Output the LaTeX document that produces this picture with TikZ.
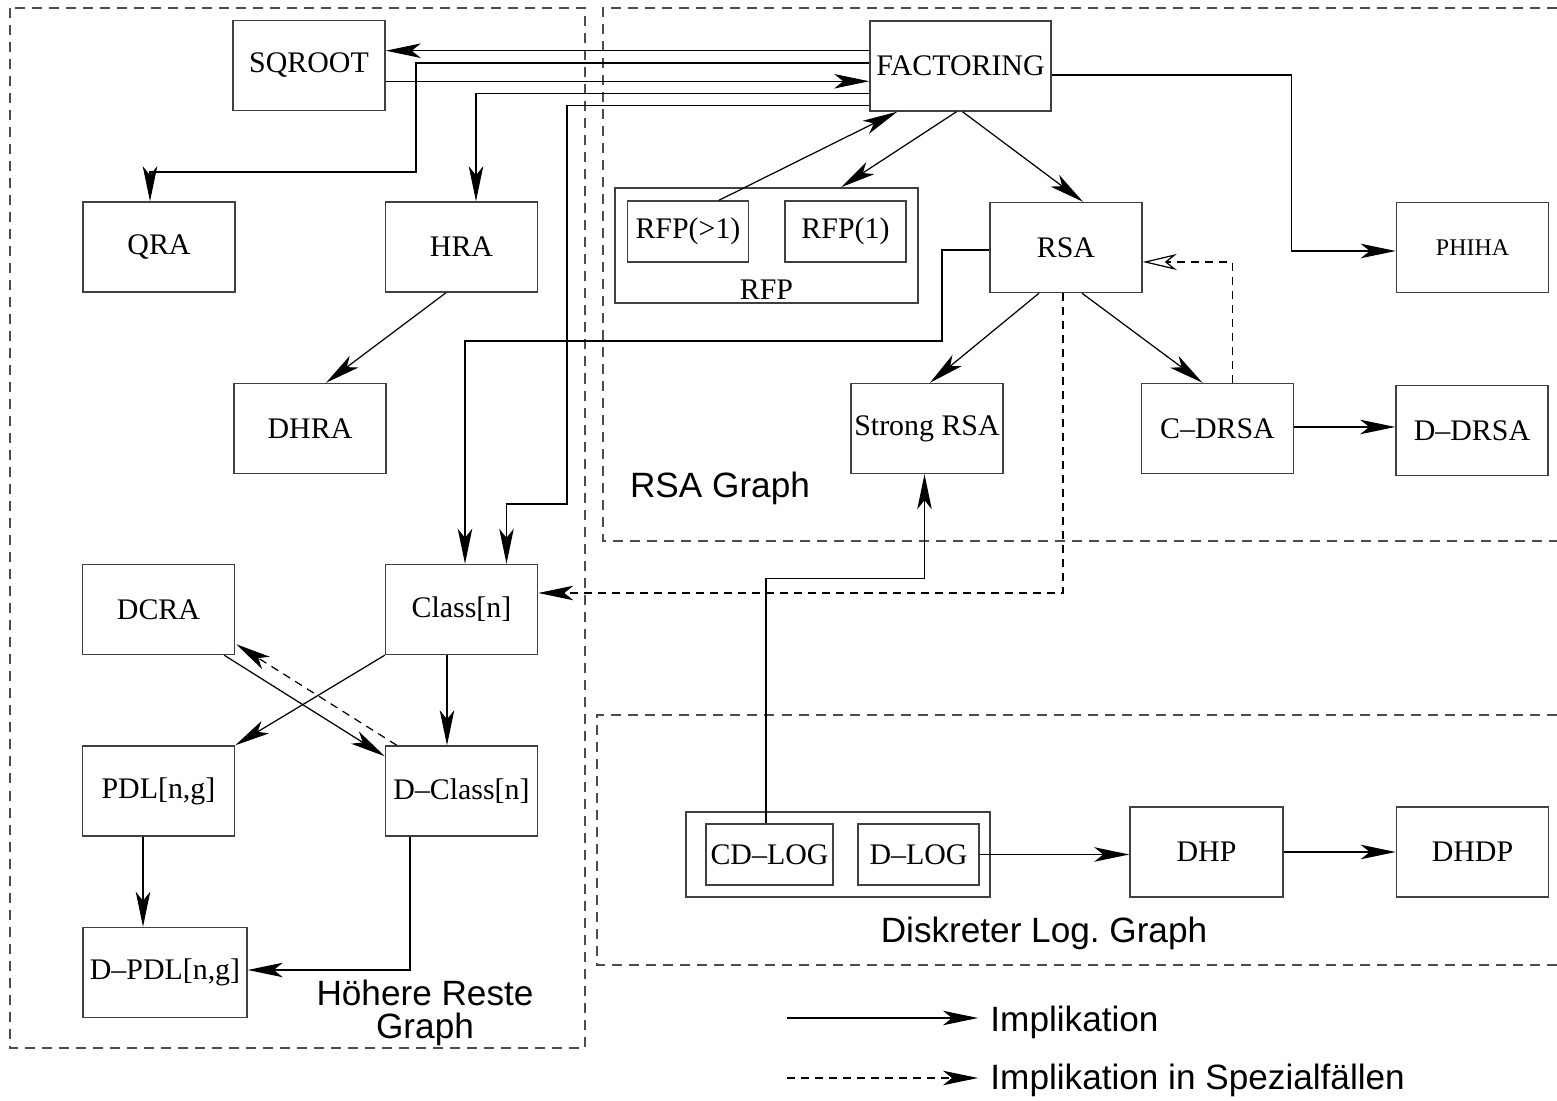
\documentclass[tikz,border=0pt]{standalone}
\usepackage{fontspec}
\setmainfont{Liberation Serif}
\setsansfont{Liberation Sans}
\usetikzlibrary{arrows.meta,calc}

\begin{document}
\begin{tikzpicture}[x=0.01cm,y=-0.01cm,
  >={Stealth[length=0.35cm,width=0.145cm,inset=0.09cm]},
  box/.style={draw=black!75,line width=0.4pt,minimum width=1.52cm,minimum height=0.9cm,
    inner sep=0pt,font=\fontsize{8.5}{10}\selectfont},
  sub/.style={box,minimum width=1.21cm,minimum height=0.61cm},
  imp/.style={->,line width=0.35pt},
  spec/.style={->,line width=0.35pt,dash pattern=on 0.08cm off 0.06cm},
  region/.style={black!70,line width=0.35pt,dash pattern=on 0.1cm off 0.07cm},
  glabel/.style={font=\sffamily\fontsize{10}{9.4}\selectfont,align=center}]
  \useasboundingbox (0,0) rectangle (1557,1101);

  % subgraph frames and their titles
  \draw[region] (10,8) rectangle (585,1048);
  \draw[region] (1557,8) -- (603,8) -- (603,541) -- (1557,541);
  \draw[region] (1557,715) -- (597,715) -- (597,965) -- (1557,965);
  \node[glabel] (lblrsa) at (720,488) {RSA Graph};
  \node[glabel] (lbldlog) at (1044,933) {Diskreter Log.\ Graph};
  \node[glabel] (lblhr) at (425,1013) {Höhere Reste\\Graph};

  % problems
  \node[box] (sq) at (309,65.5) {SQROOT};
  \node[box,minimum width=1.81cm] (fac) at (960.5,66) {FACTORING};
  \node[box] (qra) at (159,247) {QRA};
  \node[box] (hra) at (461.5,247) {HRA};
  \node[box] (dhra) at (310,428.5) {DHRA};
  \node[box,minimum width=3.03cm,minimum height=1.15cm] (rfp) at (766.5,245.5) {};
  \node[font=\fontsize{8.5}{10}\selectfont] (rfplbl) at (766.5,290) {RFP};
  \node[sub] (rfpa) at (688,231.5) {RFP(>1)};
  \node[sub] (rfpb) at (845.5,231.5) {RFP(1)};
  \node[box] (rsa) at (1066,247.5) {RSA};
  \node[box,font=\fontsize{6.8}{8}\selectfont] (phiha) at (1472.5,247.5) {PHIHA};
  \node[box] (srsa) at (927,428.5) {Strong RSA};
  \node[box] (cdrsa) at (1217.5,428.5) {C--DRSA};
  \node[box] (ddrsa) at (1472,430.5) {D--DRSA};
  \node[box] (cls) at (461.5,609.5) {Class[n]};
  \node[box] (dcra) at (158.5,609.5) {DCRA};
  \node[box] (pdl) at (158.5,791) {PDL[n,g]};
  \node[box] (dcls) at (461.5,791) {D--Class[n]};
  \node[box,minimum width=1.64cm] (dpdl) at (165,972.5) {D--PDL[n,g]};
  \node[box,minimum width=3.04cm,minimum height=0.85cm] (dlog) at (838,854.5) {};
  \node[sub,minimum width=1.27cm] (cdlog) at (769.5,854.5) {CD--LOG};
  \node[sub] (dlg) at (918.5,854.5) {D--LOG};
  \node[box,minimum width=1.53cm] (dhp) at (1206.5,852) {DHP};
  \node[box] (dhdp) at (1472.5,852) {DHDP};

  % ports on the left side of FACTORING
  \coordinate (f1) at ($(fac.north west)!0.333!(fac.south west)$);
  \coordinate (f2) at ($(fac.north west)!0.467!(fac.south west)$);
  \coordinate (f3) at ($(fac.north west)!0.667!(fac.south west)$);
  \coordinate (f4) at ($(fac.north west)!0.8!(fac.south west)$);
  \coordinate (f5) at ($(fac.north west)!0.933!(fac.south west)$);
  \coordinate (f6) at ($(fac.east)+(0,9)$);

  % implications
  \draw[imp] (f1) -- (f1 -| sq.east);
  \draw[imp] (f3 -| sq.east) -- (f3);
  \draw[imp] (f2) -| (416,172) -| ($(qra.north)+(-9,0)$);
  \draw[imp] (f4) -| ($(hra.north)+(14.5,0)$);
  \draw[imp] (f5) -| (567,504) -| ($(cls.north)+(45,0)$);
  \draw[imp] (f6) -| ($(phiha.west)+(-104,3.5)$) -- ($(phiha.west)+(0,3.5)$);
  \draw[imp] ($(fac.south)+(-4,0)$) -- ($(rfp.north)+(74.5,0)$);
  \draw[imp] ($(rfpa.north)+(31,0)$) -- ($(fac.south west)+(28,0)$);
  \draw[imp] ($(fac.south)+(2,0)$) -- ($(rsa.north)+(17,0)$);
  \draw[imp] ($(rsa.west)+(0,2.5)$) -| (942,341) -| ($(cls.north)+(3.5,0)$);
  \draw[imp] ($(rsa.south)+(-27,0)$) -- ($(srsa.north)+(3,0)$);
  \draw[imp] ($(rsa.south)+(16,0)$) -- ($(cdrsa.north)+(-15,0)$);
  \draw[imp] ($(cdrsa.east)+(0,-1.5)$) -- ($(ddrsa.west)+(0,-3.5)$);
  \draw[imp] ($(hra.south)+(-15.5,0)$) -- ($(dhra.north)+(16,0)$);
  \draw[imp] ($(cls.south)+(-14.5,0)$) -- ($(dcls.north)+(-14.5,0)$);
  \draw[imp] (cls.south west) -- (pdl.north east);
  \draw[imp] ($(dcra.south east)+(-11,0)$) -- ($(dcls.north west)+(0,11)$);
  \draw[imp] ($(pdl.south)+(-15.5,0)$) -- ($(dpdl.north)+(-22,0)$);
  \draw[imp] ($(dcls.south)+(-51.5,0)$) |- ($(dpdl.east)+(0,-2.5)$);
  \draw[imp] ($(cdlog.north)+(-3.5,0)$) |- ($(srsa.south)+(-2.5,104)$) -- ($(srsa.south)+(-2.5,0)$);
  \draw[imp] (dlg.east) -- (dlg.east -| dhp.west);
  \draw[imp] (dhp.east) -- (dhdp.west);

  % implications in special cases
  \draw[spec] ($(rsa.south)+(-3,0)$) |- ($(cls.east)+(0,-16.5)$);
  \draw[spec] ($(dcls.north west)+(12,0)$) -- ($(dcra.south east)+(1,-11)$);
  \draw[spec,-{Stealth[open,length=0.34cm,width=0.16cm,inset=0.1cm]}]
    ($(cdrsa.north)+(15,0)$) |- ($(rsa.east)+(0,14.5)$);

  % legend
  \node[font=\sffamily\fontsize{10}{12}\selectfont,anchor=base west] (legimp) at (978,1032) {Implikation};
  \node[font=\sffamily\fontsize{10}{12}\selectfont,anchor=base west] (legspec) at (978,1090) {Implikation in Spezialfällen};
  \coordinate (imp0) at (787,1018);
  \coordinate (spec0) at (787,1078);
  \draw[imp] (imp0) -- (imp0 -| legimp.west);
  \draw[spec] (spec0) -- (spec0 -| legspec.west);
\end{tikzpicture}
\end{document}
